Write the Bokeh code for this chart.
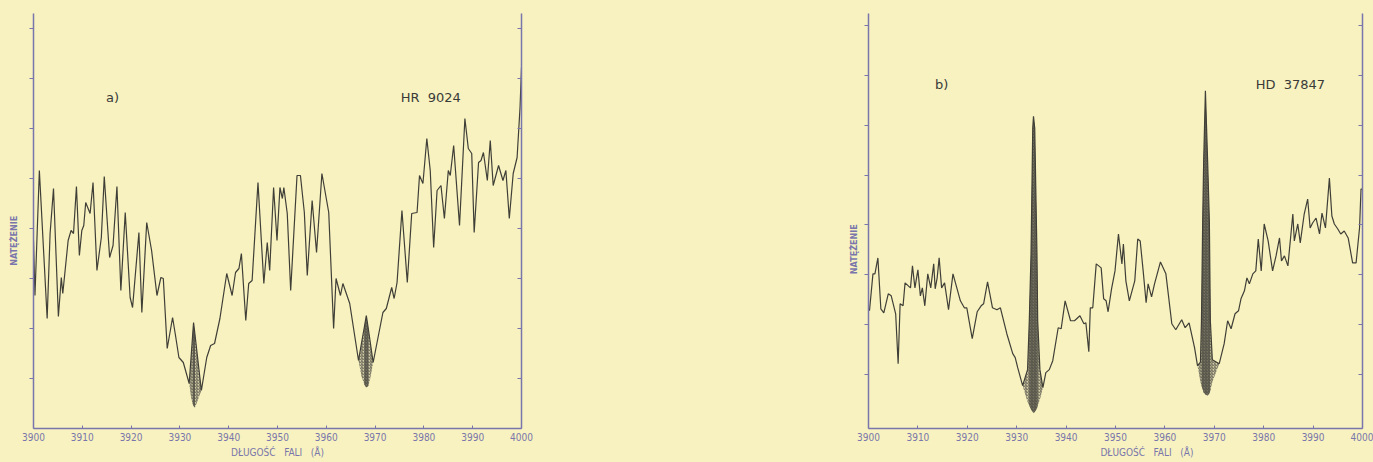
import numpy as np
from bokeh.plotting import figure
from bokeh.models import LinearAxis, FixedTicker, Range1d, Label
from bokeh.layouts import row
from bokeh.embed import file_html
from bokeh.resources import INLINE

# ---------------- data ----------------
wl_ticks = [3900, 3910, 3920, 3930, 3940, 3950, 3960, 3970, 3980, 3990, 4000]
wl_tick_labels = ["3900", "3910", "3920", "3930", "3940", "3950", "3960", "3970", "3980", "3990", "4000"]
int_ticks = [1, 2, 3, 4, 5, 6, 7, 8]

# panel a) HR 9024
a_wl = [3900.0, 3900.3, 3901.2, 3902.8, 3903.4, 3904.1, 3905.1, 3905.7, 3906.0, 3907.1,
        3907.7, 3908.2, 3908.8, 3909.4, 3909.9, 3910.3, 3910.7, 3911.6, 3912.2, 3913.0,
        3913.9, 3914.5, 3915.6, 3916.3, 3917.1, 3917.9, 3918.8, 3919.8, 3920.3, 3921.6,
        3922.2, 3923.2, 3924.2, 3925.3, 3926.1, 3926.6, 3927.4, 3928.5, 3929.1, 3929.8,
        3930.7, 3931.9, 3934.4, 3935.5, 3936.3, 3937.1, 3938.2, 3939.6, 3940.7, 3941.4,
        3942.1, 3942.6, 3943.5, 3944.1, 3944.8, 3946.0, 3947.2, 3947.9, 3948.4, 3949.2,
        3949.9, 3950.5, 3951.0, 3951.3, 3952.0, 3952.7, 3954.0, 3954.7, 3955.5, 3956.1,
        3957.1, 3958.0, 3959.1, 3960.5, 3961.5, 3962.0, 3962.9, 3963.4, 3964.8, 3966.6,
        3969.6, 3971.6, 3972.3, 3973.4, 3973.9, 3974.5, 3975.5, 3976.6, 3977.5, 3978.6,
        3979.1, 3979.8, 3980.6, 3981.3, 3982.0, 3982.7, 3983.5, 3984.2, 3985.0, 3985.4,
        3986.1, 3987.3, 3988.4, 3989.1, 3989.8, 3990.3, 3991.2, 3991.7, 3992.2, 3993.0,
        3993.6, 3994.2, 3995.3, 3996.2, 3996.8, 3997.5, 3998.3, 3999.1, 3999.7, 4000.0]
a_int = [3.76, 2.66, 5.16, 2.20, 3.90, 4.80, 2.24, 3.02, 2.70, 3.76,
         3.96, 3.90, 4.84, 3.46, 3.96, 4.06, 4.52, 4.30, 4.92, 3.16,
         3.82, 5.04, 3.42, 3.66, 4.84, 2.76, 4.32, 2.62, 2.42, 3.92,
         2.32, 4.12, 3.56, 2.66, 3.02, 3.00, 1.60, 2.22, 1.86, 1.42,
         1.32, 0.90, 0.76, 1.42, 1.66, 1.70, 2.20, 3.10, 2.66, 3.12,
         3.20, 3.50, 2.16, 2.90, 2.96, 4.92, 2.90, 3.72, 3.16, 4.82,
         3.76, 4.82, 4.60, 4.82, 4.30, 2.76, 5.06, 5.06, 4.32, 3.06,
         4.56, 3.52, 5.10, 4.32, 2.00, 3.00, 2.66, 2.90, 2.50, 1.36,
         1.32, 2.32, 2.40, 2.82, 2.60, 2.92, 4.36, 2.92, 4.30, 4.32,
         5.06, 4.90, 5.80, 5.16, 3.62, 4.76, 4.86, 4.20, 5.16, 5.06,
         5.66, 4.06, 6.20, 5.60, 5.50, 3.92, 5.32, 5.36, 5.52, 4.96,
         5.76, 4.86, 5.26, 4.96, 5.16, 4.20, 5.10, 5.42, 6.42, 7.22]
# emission cores (K and H), top = emission profile, bot = absorption profile
aK_wl = [3931.9, 3932.3, 3932.6, 3932.8, 3933.1, 3933.6, 3934.4]
aK_top = [0.90, 1.44, 1.85, 2.12, 1.87, 1.44, 0.76]
aK_bot = [0.90, 0.62, 0.50, 0.45, 0.42, 0.55, 0.76]
aH_wl = [3966.6, 3967.2, 3967.8, 3968.2, 3968.6, 3969.0, 3969.6]
aH_top = [1.36, 1.70, 2.03, 2.26, 2.00, 1.73, 1.32]
aH_bot = [1.36, 1.05, 0.88, 0.82, 0.85, 1.00, 1.32]

# panel b) HD 37847
b_wl = [3900.2, 3900.9, 3901.3, 3901.9, 3902.5, 3903.1, 3904.0, 3904.6, 3905.5, 3906.0,
        3906.4, 3907.0, 3907.4, 3908.5, 3908.9, 3909.4, 3910.0, 3910.5, 3910.9, 3911.4,
        3912.0, 3912.6, 3913.2, 3913.5, 3913.9, 3914.3, 3914.8, 3915.4, 3916.2, 3917.1,
        3918.6, 3919.4, 3919.9, 3921.0, 3922.0, 3922.8, 3923.3, 3924.1, 3925.1, 3926.0,
        3926.7, 3928.0, 3929.2, 3929.7, 3930.2, 3931.2, 3935.3, 3935.9, 3936.6, 3937.3,
        3938.4, 3939.0, 3939.8, 3940.9, 3941.7, 3942.8, 3943.6, 3944.0, 3944.6, 3944.9,
        3945.4, 3946.1, 3947.1, 3947.6, 3948.1, 3948.5, 3949.2, 3949.9, 3950.6, 3951.3,
        3951.6, 3952.1, 3952.8, 3953.9, 3954.5, 3955.0, 3955.6, 3956.2, 3956.6, 3957.3,
        3957.9, 3959.1, 3960.2, 3961.4, 3962.2, 3963.4, 3964.1, 3964.9, 3966.0, 3966.6,
        3971.0, 3972.0, 3972.7, 3973.4, 3974.2, 3974.9, 3975.4, 3976.1, 3976.6, 3977.1,
        3977.8, 3978.4, 3978.9, 3979.5, 3980.1, 3980.9, 3981.8, 3982.5, 3983.2, 3983.6,
        3984.2, 3984.9, 3985.9, 3986.2, 3986.9, 3987.4, 3988.2, 3988.9, 3989.4, 3989.9,
        3990.6, 3991.3, 3991.8, 3992.5, 3993.3, 3993.8, 3994.3, 3995.0, 3995.6, 3996.3,
        3997.1, 3998.0, 3998.7, 3999.4, 3999.7, 4000.0]
b_int = [2.28, 3.02, 3.02, 3.34, 2.32, 2.24, 2.62, 2.58, 2.22, 1.22,
         2.42, 2.38, 2.84, 2.74, 3.18, 2.74, 3.10, 2.58, 2.74, 2.38,
         3.02, 2.74, 3.22, 2.72, 2.94, 3.34, 2.74, 2.84, 2.30, 3.02,
         2.48, 2.34, 2.34, 1.72, 2.26, 2.38, 2.42, 2.86, 2.34, 2.30,
         2.34, 1.82, 1.42, 1.34, 1.14, 0.78, 0.74, 1.04, 1.10, 1.28,
         1.94, 1.92, 2.48, 2.08, 2.08, 2.18, 2.02, 2.04, 1.46, 2.34,
         2.34, 3.22, 3.14, 2.52, 2.48, 2.26, 2.72, 3.08, 3.82, 3.22,
         3.62, 2.88, 2.48, 2.88, 3.72, 3.68, 3.08, 2.44, 2.82, 2.56,
         2.82, 3.26, 3.02, 2.02, 1.90, 2.10, 1.94, 2.04, 1.54, 1.18,
         1.22, 1.62, 2.08, 1.92, 2.22, 2.28, 2.52, 2.68, 2.94, 2.82,
         3.02, 3.08, 3.72, 3.08, 4.02, 3.68, 3.08, 3.38, 3.74, 3.28,
         3.38, 3.18, 4.22, 3.68, 4.02, 3.64, 4.22, 4.52, 3.94, 4.04,
         4.14, 3.82, 4.24, 3.94, 4.94, 4.18, 4.02, 3.92, 3.82, 3.88,
         3.74, 3.24, 3.24, 3.94, 4.72, 4.72]
bK_wl = [3931.2, 3932.2, 3932.55, 3932.9, 3933.25, 3933.4, 3933.65, 3934.1, 3934.25, 3934.7, 3935.3]
bK_top = [0.78, 1.10, 2.08, 3.42, 5.94, 6.18, 5.94, 3.42, 2.08, 1.10, 0.74]
bK_bot = [0.78, 0.45, 0.38, 0.30, 0.25, 0.23, 0.25, 0.32, 0.38, 0.50, 0.74]
bH_wl = [3966.6, 3967.2, 3967.4, 3967.65, 3967.85, 3968.2, 3968.65, 3969.0, 3969.2, 3969.6, 3971.0]
bH_top = [1.18, 1.25, 2.08, 4.08, 5.28, 6.69, 5.28, 4.08, 2.08, 1.30, 1.22]
bH_bot = [1.18, 0.85, 0.78, 0.70, 0.64, 0.60, 0.58, 0.62, 0.68, 0.85, 1.22]

# ---------------- style ----------------
BG = "#f7f2c0"
AX = "#7a76ab"
INK = "#403f37"
TXT = "#3a3a38"
NARROW = "'Liberation Sans Narrow', 'DejaVu Sans Condensed', 'Roboto Condensed', sans-serif"
NB = "\u00a0"


def panel(wl, inten, cores, frame_w, frame_h, yr, b_left, b_right, b_top, b_bottom,
          xlabel, ylabel, tag, tag_xy, star, star_xy, ylab_standoff):
    p = figure(frame_width=frame_w, frame_height=frame_h,
               x_range=Range1d(3900, 4000), y_range=Range1d(yr[0], yr[1]),
               output_backend="svg", toolbar_location=None,
               min_border_left=b_left, min_border_right=b_right,
               min_border_top=b_top, min_border_bottom=b_bottom,
               background_fill_color=BG, border_fill_color=BG,
               outline_line_color=None)
    p.grid.visible = False

    # bottom axis
    xa = p.xaxis[0]
    xa.ticker = FixedTicker(ticks=wl_ticks)
    xa.major_label_overrides = {t: s for t, s in zip(wl_ticks, wl_tick_labels)}
    xa.axis_line_color = AX
    xa.axis_line_width = 1.5
    xa.major_tick_line_color = AX
    xa.major_tick_in = 3
    xa.major_tick_out = 0
    xa.minor_tick_line_color = None
    xa.major_label_text_color = AX
    xa.major_label_text_font = NARROW
    xa.major_label_text_font_size = "10px"
    xa.major_label_standoff = 4
    xa.axis_label = xlabel
    xa.axis_label_text_color = AX
    xa.axis_label_text_font = NARROW
    xa.axis_label_text_font_size = "10px"
    xa.axis_label_text_font_style = "normal"
    xa.axis_label_standoff = 3

    # left axis (ticks only, no numbers)
    ya = p.yaxis[0]
    ya.ticker = FixedTicker(ticks=int_ticks)
    ya.major_label_overrides = {t: "" for t in int_ticks}
    ya.axis_line_color = AX
    ya.axis_line_width = 1.5
    ya.major_tick_line_color = AX
    ya.major_tick_in = 0
    ya.major_tick_out = 4
    ya.minor_tick_line_color = None
    ya.major_label_standoff = 0
    ya.axis_label = ylabel
    ya.axis_label_text_color = AX
    ya.axis_label_text_font = NARROW
    ya.axis_label_text_font_size = "9px"
    ya.axis_label_text_font_style = "bold"
    ya.axis_label_standoff = ylab_standoff

    # right axis (ticks only)
    ra = LinearAxis(ticker=FixedTicker(ticks=int_ticks))
    ra.major_label_overrides = {t: "" for t in int_ticks}
    ra.axis_line_color = AX
    ra.axis_line_width = 1.5
    ra.major_tick_line_color = AX
    ra.major_tick_in = 4
    ra.major_tick_out = 0
    ra.minor_tick_line_color = None
    ra.major_label_standoff = 0
    p.add_layout(ra, "right")

    # emission cores
    for cwl, ctop, cbot in cores:
        p.varea(x=cwl, y1=cbot, y2=ctop, fill_color="#8d8a78", fill_alpha=0.35,
                hatch_pattern="/", hatch_color="#3b3a33", hatch_scale=3,
                hatch_weight=0.8, hatch_alpha=0.9)
        p.varea(x=cwl[2:-2], y1=cbot[2:-2], y2=ctop[2:-2],
                fill_color="#4a4840", fill_alpha=0.7)

    # spectrum line: continuum + emission profiles, merged in wavelength order
    all_wl = np.concatenate([wl] + [np.array(c[0]) for c in cores])
    all_in = np.concatenate([inten] + [np.array(c[1]) for c in cores])
    order = np.argsort(all_wl, kind="stable")
    p.line(all_wl[order], all_in[order], line_color=INK, line_width=1.2)

    p.add_layout(Label(x=tag_xy[0], y=tag_xy[1], text=tag, text_align="center",
                       text_baseline="middle", text_color=TXT,
                       text_font="DejaVu Sans", text_font_size="13px"))
    p.add_layout(Label(x=star_xy[0], y=star_xy[1], text=star, text_align="center",
                       text_baseline="middle", text_color=TXT,
                       text_font="DejaVu Sans", text_font_size="13px"))
    return p


xlab = "DŁUGOŚĆ" + NB * 3 + "FALI" + NB * 3 + "(Å)"
pa = panel(np.array(a_wl), np.array(a_int),
           [(aK_wl, aK_top, aK_bot), (aH_wl, aH_top, aH_bot)],
           488, 415, (0, 8.3), 33, 299, 13, 40,
           xlab, "NATĘŻENIE" + NB * 14, "a)", (3916.2, 6.62),
           "HR" + NB * 2 + "9024", (3981.4, 6.62), 11)
pb = panel(np.array(b_wl), np.array(b_int),
           [(bK_wl, bK_top, bK_bot), (bH_wl, bH_top, bH_bot)],
           494, 415, (-0.08, 8.24), 48, 11, 13, 40,
           NB * 22 + xlab, "NATĘŻENIE" + NB * 20, "b)", (3914.8, 6.82),
           "HD" + NB * 2 + "37847", (3985.4, 6.82), 6)

layout = row(pa, pb)
layout.styles = {"background-color": BG}

html = file_html(layout, INLINE, title="Widma HR 9024 i HD 37847")
html = html.replace("<head>", "<head><style>html,body{overflow:hidden;background:%s;}</style>" % BG, 1)
open("out.html", "w").write(html)
